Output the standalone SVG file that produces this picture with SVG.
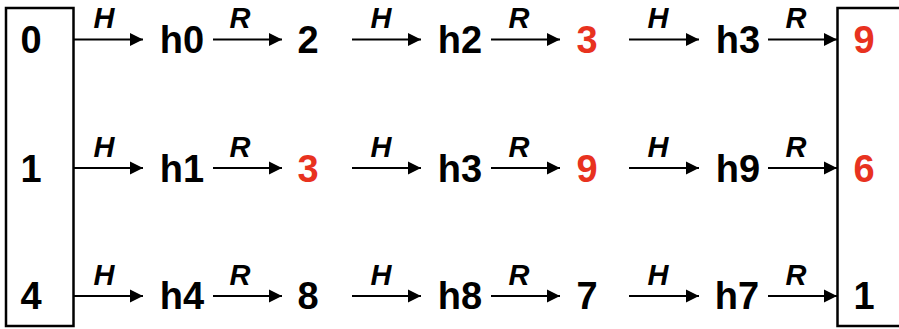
<svg xmlns="http://www.w3.org/2000/svg" width="899" height="329" viewBox="0 0 899 329">
<style>
.n{font-family:"Liberation Sans",Arial,sans-serif;font-weight:bold;font-size:38px;fill:#000;text-anchor:middle}
.r{fill:#e8321f}
.l{font-family:"Liberation Sans",Arial,sans-serif;font-weight:bold;font-style:italic;font-size:29px;fill:#000;text-anchor:middle}
.a{stroke:#000;stroke-width:2;fill:none;marker-end:url(#ah)}
.b{fill:none;stroke:#000;stroke-width:2.5}
</style>
<defs>
<marker id="ah" markerWidth="14" markerHeight="14" refX="13" refY="7" orient="auto" markerUnits="userSpaceOnUse">
<path d="M0,0.5 L13,7 L0,13.5 Z" fill="#000"/>
</marker>
</defs>
<rect width="899" height="329" fill="#fff"/>
<g id="boxL"><rect class="b" x="6" y="8" width="67.5" height="318"/>
<text class="n" x="31" y="53">0</text><text class="n" x="31" y="182">1</text><text class="n" x="31" y="309">4</text></g>
<g id="boxR"><rect class="b" x="837.5" y="8" width="70" height="318"/>
<text class="n r" x="864" y="53">9</text><text class="n r" x="864" y="182">6</text><text class="n" x="864" y="309">1</text></g>
<g id="r1">
<g id="h0"><text class="n" x="182" y="53">h0</text></g>
<g id="n2a"><text class="n" x="308" y="53">2</text></g>
<g id="h2"><text class="n" x="460" y="53">h2</text></g>
<g id="n3a"><text class="n r" x="587" y="53">3</text></g>
<g id="h3a"><text class="n" x="738" y="53">h3</text></g>
</g>
<g id="r2">
<g id="h1"><text class="n" x="182" y="182">h1</text></g>
<g id="n3b"><text class="n r" x="308" y="182">3</text></g>
<g id="h3b"><text class="n" x="460" y="182">h3</text></g>
<g id="n9b"><text class="n r" x="587" y="182">9</text></g>
<g id="h9"><text class="n" x="738" y="182">h9</text></g>
</g>
<g id="r3">
<g id="h4"><text class="n" x="182" y="309">h4</text></g>
<g id="n8"><text class="n" x="308" y="309">8</text></g>
<g id="h8"><text class="n" x="460" y="309">h8</text></g>
<g id="n7"><text class="n" x="587" y="309">7</text></g>
<g id="h7"><text class="n" x="737" y="309">h7</text></g>
</g>
<g id="connectors">
<path class="a" d="M74,39.5H143"/><path class="a" d="M213,39.5H282"/><path class="a" d="M352,39.5H421"/><path class="a" d="M491,39.5H560"/><path class="a" d="M629,39.5H699"/><path class="a" d="M768,39.5H837"/>
<path class="a" d="M74,168H143"/><path class="a" d="M213,168H282"/><path class="a" d="M352,168H421"/><path class="a" d="M491,168H560"/><path class="a" d="M629,168H699"/><path class="a" d="M768,168H837"/>
<path class="a" d="M74,296H143"/><path class="a" d="M213,296H282"/><path class="a" d="M352,296H421"/><path class="a" d="M491,296H560"/><path class="a" d="M629,296H699"/><path class="a" d="M768,296H837"/>
<text class="l" x="104" y="28">H</text><text class="l" x="240" y="28">R</text><text class="l" x="381" y="28">H</text><text class="l" x="519" y="28">R</text><text class="l" x="658" y="28">H</text><text class="l" x="796" y="28">R</text>
<text class="l" x="104" y="157">H</text><text class="l" x="240" y="157">R</text><text class="l" x="381" y="157">H</text><text class="l" x="519" y="157">R</text><text class="l" x="658" y="157">H</text><text class="l" x="796" y="157">R</text>
<text class="l" x="104" y="285">H</text><text class="l" x="240" y="285">R</text><text class="l" x="381" y="285">H</text><text class="l" x="519" y="285">R</text><text class="l" x="658" y="285">H</text><text class="l" x="796" y="285">R</text>
</g>
</svg>
